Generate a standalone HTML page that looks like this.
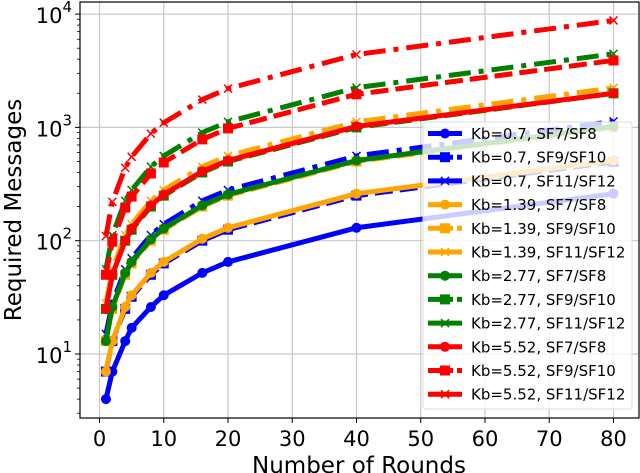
<!DOCTYPE html>
<html><head><meta charset="utf-8"><style>
body{margin:0;background:#fff}
svg{display:block;font-family:"DejaVu Sans","Liberation Sans",sans-serif}
</style></head><body>
<svg id="chart" width="640" height="473" viewBox="0 0 640 473" xmlns="http://www.w3.org/2000/svg">
<g id="grid"></g>
<g id="series"></g>
<rect x="80" y="2" width="559" height="416" fill="none" stroke="#000" stroke-width="1.2"/>
<g id="axes"></g>
<text x="359" y="473" font-size="23" text-anchor="middle">Number of Rounds</text>
<text transform="translate(21,210) rotate(-90)" font-size="23" text-anchor="middle">Required Messages</text>
<g id="legend"></g>
</svg>
<script>
const rounds = [1, 2, 4, 5, 8, 10, 16, 20, 40, 80];
const seriesNames = ["Kb=0.7, SF7/SF8","Kb=0.7, SF9/SF10","Kb=0.7, SF11/SF12","Kb=1.39, SF7/SF8","Kb=1.39, SF9/SF10","Kb=1.39, SF11/SF12","Kb=2.77, SF7/SF8","Kb=2.77, SF9/SF10","Kb=2.77, SF11/SF12","Kb=5.52, SF7/SF8","Kb=5.52, SF9/SF10","Kb=5.52, SF11/SF12"];
const kb07_sf7 = [4, 7, 13, 17, 26, 33, 52, 65, 130, 260];
const kb07_sf9 = [7, 13, 25, 32, 50, 63, 100, 125, 250, 495];
const kb07_sf11 = [15, 28, 56, 70, 112, 140, 225, 280, 560, 1130];
const kb139_sf7 = [7, 13, 26, 33, 52, 65, 104, 130, 260, 510];
const kb139_sf9 = [13, 25, 50, 63, 100, 125, 200, 250, 500, 1000];
const kb139_sf11 = [28, 56, 112, 140, 225, 280, 450, 560, 1120, 2230];
const kb277_sf7 = [13, 26, 52, 65, 103, 128, 205, 256, 510, 1020];
const kb277_sf9 = [25, 50, 100, 125, 200, 250, 400, 500, 1000, 2000];
const kb277_sf11 = [56, 112, 225, 280, 450, 560, 900, 1120, 2240, 4460];
const kb552_sf7 = [25, 50, 100, 128, 205, 255, 410, 510, 1020, 2000];
const kb552_sf9 = [50, 98, 196, 245, 392, 490, 784, 980, 1960, 3900];
const kb552_sf11 = [110, 220, 440, 550, 880, 1100, 1760, 2200, 4400, 8790];
const seriesValues = [kb07_sf7,kb07_sf9,kb07_sf11,kb139_sf7,kb139_sf9,kb139_sf11,kb277_sf7,kb277_sf9,kb277_sf11,kb552_sf7,kb552_sf9,kb552_sf11];
const xTicks = [0,10,20,30,40,50,60,70,80];
const yDecades = [1,2,3,4];

const NS="http://www.w3.org/2000/svg";
const colors=["#0000ff","#ffa500","#008000","#ff0000"];
const dashes=["","18,7","22,8,5,8"];
const xs=v=>99.5+v*6.425;
const ys=v=>354-(Math.log10(v)-1)*113.3;
function mk(tag,parent,attrs){const e=document.createElementNS(NS,tag);for(const k in attrs)e.setAttribute(k,attrs[k]);parent.appendChild(e);return e;}
const grid=document.getElementById('grid'),axes=document.getElementById('axes');
xTicks.forEach(t=>{
  const x=xs(t);
  const g=mk('line',grid,{x1:x,x2:x,y1:2,y2:418,stroke:'#c8c8c8','stroke-width':1.2});
  
  
  mk('line',axes,{x1:x,x2:x,y1:418,y2:423,stroke:'#000'});
  const tx=mk('text',axes,{x:x,y:446,'font-size':21,'text-anchor':'middle'});
  tx.textContent=t;
  
  
});
yDecades.forEach(d=>{
  const y=ys(Math.pow(10,d));
  const g=mk('line',grid,{x1:80,x2:639,y1:y,y2:y,stroke:'#c8c8c8','stroke-width':1.2});
  
  
  mk('line',axes,{x1:75,x2:80,y1:y,y2:y,stroke:'#000'});
  const tx=mk('text',axes,{x:72,y:y+9,'font-size':21,'text-anchor':'end'});
  tx.innerHTML='10<tspan dy="-11" font-size="15">'+d+'</tspan>';
  
  
});
for(let d=0;d<=4;d++)for(let m=2;m<=9;m++){const v=m*Math.pow(10,d);const y=ys(v);if(y<2||y>418)continue;mk('line',axes,{x1:77,x2:80,y1:y,y2:y,stroke:'#000','stroke-width':0.8});}
function marker(parent,type,x,y,c){
  if(type===0)mk('circle',parent,{cx:x,cy:y,r:5,fill:c});
  else if(type===1)mk('rect',parent,{x:x-5,y:y-5,width:10,height:10,fill:c});
  else mk('path',parent,{d:`M${x-4},${y-4}L${x+4},${y+4}M${x-4},${y+4}L${x+4},${y-4}`,stroke:c,'stroke-width':1.5});
}
const sg=document.getElementById('series');
seriesValues.forEach((vals,i)=>{
  const c=colors[Math.floor(i/3)],ty=i%3;
  const g=mk('g',sg,{});
  
  
  const pts=vals.map((v,j)=>xs(rounds[j])+','+ys(v)).join(' ');
  const a={points:pts,fill:'none',stroke:c,'stroke-width':5,'stroke-linejoin':'round'};
  if(dashes[ty])a['stroke-dasharray']=dashes[ty];
  mk('polyline',g,a);
  vals.forEach((v,j)=>marker(g,ty,xs(rounds[j]),ys(v),c));
});
const lg=document.getElementById('legend');
mk('rect',lg,{x:423,y:122,width:209,height:287,rx:3,fill:'#fff','fill-opacity':0.8,stroke:'#ddd'});
seriesNames.forEach((n,i)=>{
  const c=colors[Math.floor(i/3)],ty=i%3,y=133.5+i*23.7;
  const g=mk('g',lg,{});
  
  
  const a={x1:428,x2:462,y1:y,y2:y,stroke:c,'stroke-width':5};
  if(ty===1)a['stroke-dasharray']='25,4';
  mk('line',g,a);
  marker(g,ty,445,y,c);
  const t=mk('text',g,{x:471,y:y+5.5,'font-size':15});
  t.textContent=n;
});
</script>
</body></html>
